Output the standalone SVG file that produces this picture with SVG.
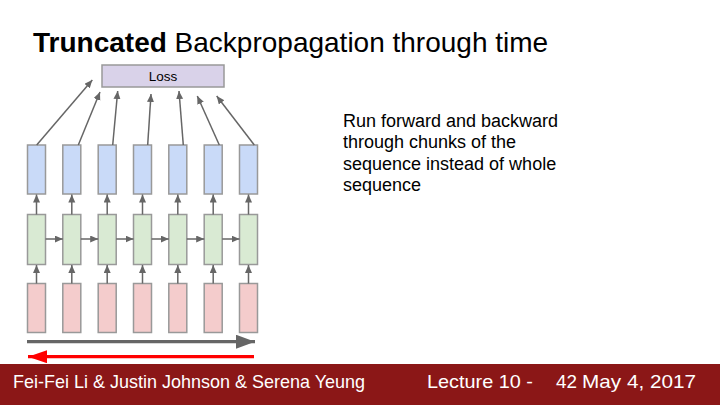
<svg xmlns="http://www.w3.org/2000/svg" width="720" height="405" viewBox="0 0 720 405">
<style>
.t{font-family:"Liberation Sans",Arial,sans-serif;fill:#000}
.f{font-family:"Liberation Sans",Arial,sans-serif;fill:#fff;font-size:19px}
.blue{fill:#c9daf8;stroke:#999;stroke-width:1.5}
.green{fill:#d9ead3;stroke:#999;stroke-width:1.5}
.pink{fill:#f4cccc;stroke:#999;stroke-width:1.5}
.c{stroke:#666;stroke-width:1.5;fill:none;marker-end:url(#ah)}
</style>
<defs>
<marker id="ah" markerUnits="userSpaceOnUse" markerWidth="9" markerHeight="8" refX="8" refY="3.5" orient="auto"><path d="M0,0 L8,3.5 L0,7 z" fill="#666"/></marker>
<marker id="big" markerUnits="userSpaceOnUse" markerWidth="20" markerHeight="15" refX="19" refY="7" orient="auto"><path d="M0,0 L19,7 L0,14 z" fill="#666"/></marker>
<marker id="red" markerUnits="userSpaceOnUse" markerWidth="20" markerHeight="15" refX="19" refY="6.5" orient="auto"><path d="M0,0 L19,6.5 L0,13 z" fill="#f00"/></marker>
</defs>
<rect width="720" height="405" fill="#fff"/>
<text class="t" x="33" y="52" font-size="28"><tspan font-weight="bold">Truncated</tspan> Backpropagation through time</text>
<g id="loss">
<rect x="102" y="65" width="122" height="22" fill="#d9d2e9" stroke="#999" stroke-width="1.5"/>
<text class="t" x="163" y="81" font-size="13.5" text-anchor="middle">Loss</text>
</g>
<g id="blue">
<rect class="blue" x="27.5" y="145" width="18" height="49"/>
<rect class="blue" x="62.8" y="145" width="18" height="49"/>
<rect class="blue" x="98.2" y="145" width="18" height="49"/>
<rect class="blue" x="133.5" y="145" width="18" height="49"/>
<rect class="blue" x="168.8" y="145" width="18" height="49"/>
<rect class="blue" x="204.2" y="145" width="18" height="49"/>
<rect class="blue" x="239.5" y="145" width="18" height="49"/>
</g>
<g id="green">
<rect class="green" x="27.5" y="214.5" width="18" height="50"/>
<rect class="green" x="62.8" y="214.5" width="18" height="50"/>
<rect class="green" x="98.2" y="214.5" width="18" height="50"/>
<rect class="green" x="133.5" y="214.5" width="18" height="50"/>
<rect class="green" x="168.8" y="214.5" width="18" height="50"/>
<rect class="green" x="204.2" y="214.5" width="18" height="50"/>
<rect class="green" x="239.5" y="214.5" width="18" height="50"/>
</g>
<g id="pink">
<rect class="pink" x="27.5" y="283.5" width="18" height="49"/>
<rect class="pink" x="62.8" y="283.5" width="18" height="49"/>
<rect class="pink" x="98.2" y="283.5" width="18" height="49"/>
<rect class="pink" x="133.5" y="283.5" width="18" height="49"/>
<rect class="pink" x="168.8" y="283.5" width="18" height="49"/>
<rect class="pink" x="204.2" y="283.5" width="18" height="49"/>
<rect class="pink" x="239.5" y="283.5" width="18" height="49"/>
</g>
<g id="connectors">
<line class="c" x1="36.7" y1="145" x2="92.3" y2="80"/>
<line class="c" x1="78.3" y1="145" x2="100" y2="92"/>
<line class="c" x1="112.7" y1="145" x2="117.7" y2="91"/>
<line class="c" x1="147.7" y1="145" x2="151" y2="94"/>
<line class="c" x1="183.3" y1="145" x2="179" y2="91"/>
<line class="c" x1="219.3" y1="145" x2="197.3" y2="96"/>
<line class="c" x1="254.3" y1="145" x2="216.7" y2="96"/>
<line class="c" x1="36.5" y1="214.5" x2="36.5" y2="194.5"/>
<line class="c" x1="71.8" y1="214.5" x2="71.8" y2="194.5"/>
<line class="c" x1="107.2" y1="214.5" x2="107.2" y2="194.5"/>
<line class="c" x1="142.5" y1="214.5" x2="142.5" y2="194.5"/>
<line class="c" x1="177.8" y1="214.5" x2="177.8" y2="194.5"/>
<line class="c" x1="213.2" y1="214.5" x2="213.2" y2="194.5"/>
<line class="c" x1="248.5" y1="214.5" x2="248.5" y2="194.5"/>
<line class="c" x1="36.5" y1="283.5" x2="36.5" y2="265"/>
<line class="c" x1="71.8" y1="283.5" x2="71.8" y2="265"/>
<line class="c" x1="107.2" y1="283.5" x2="107.2" y2="265"/>
<line class="c" x1="142.5" y1="283.5" x2="142.5" y2="265"/>
<line class="c" x1="177.8" y1="283.5" x2="177.8" y2="265"/>
<line class="c" x1="213.2" y1="283.5" x2="213.2" y2="265"/>
<line class="c" x1="248.5" y1="283.5" x2="248.5" y2="265"/>
<line class="c" x1="45.5" y1="239" x2="62.8" y2="239"/>
<line class="c" x1="80.8" y1="239" x2="98.2" y2="239"/>
<line class="c" x1="116.2" y1="239" x2="133.5" y2="239"/>
<line class="c" x1="151.5" y1="239" x2="168.8" y2="239"/>
<line class="c" x1="186.8" y1="239" x2="204.2" y2="239"/>
<line class="c" x1="222.2" y1="239" x2="239.5" y2="239"/>
<line x1="27" y1="341.7" x2="255" y2="341.7" stroke="#666" stroke-width="3.3" marker-end="url(#big)"/>
<line x1="254" y1="356.7" x2="28" y2="356.7" stroke="#f00" stroke-width="3.3" marker-end="url(#red)"/>
</g>
<text class="t" font-size="18"><tspan x="343" y="126.5">Run forward and backward</tspan><tspan x="343" y="148">through chunks of the</tspan><tspan x="343" y="169.5">sequence instead of whole</tspan><tspan x="343" y="191">sequence</tspan></text>
<rect x="0" y="364" width="720" height="41" fill="#8b1717"/>
<text class="f" x="13" y="388" textLength="352" lengthAdjust="spacingAndGlyphs">Fei-Fei Li &amp; Justin Johnson &amp; Serena Yeung</text>
<text class="f" x="427" y="388" textLength="106" lengthAdjust="spacingAndGlyphs">Lecture 10 -</text>
<text class="f" x="556" y="388" textLength="21" lengthAdjust="spacingAndGlyphs">42</text>
<text class="f" x="582" y="388" textLength="114" lengthAdjust="spacingAndGlyphs">May 4, 2017</text>
</svg>
